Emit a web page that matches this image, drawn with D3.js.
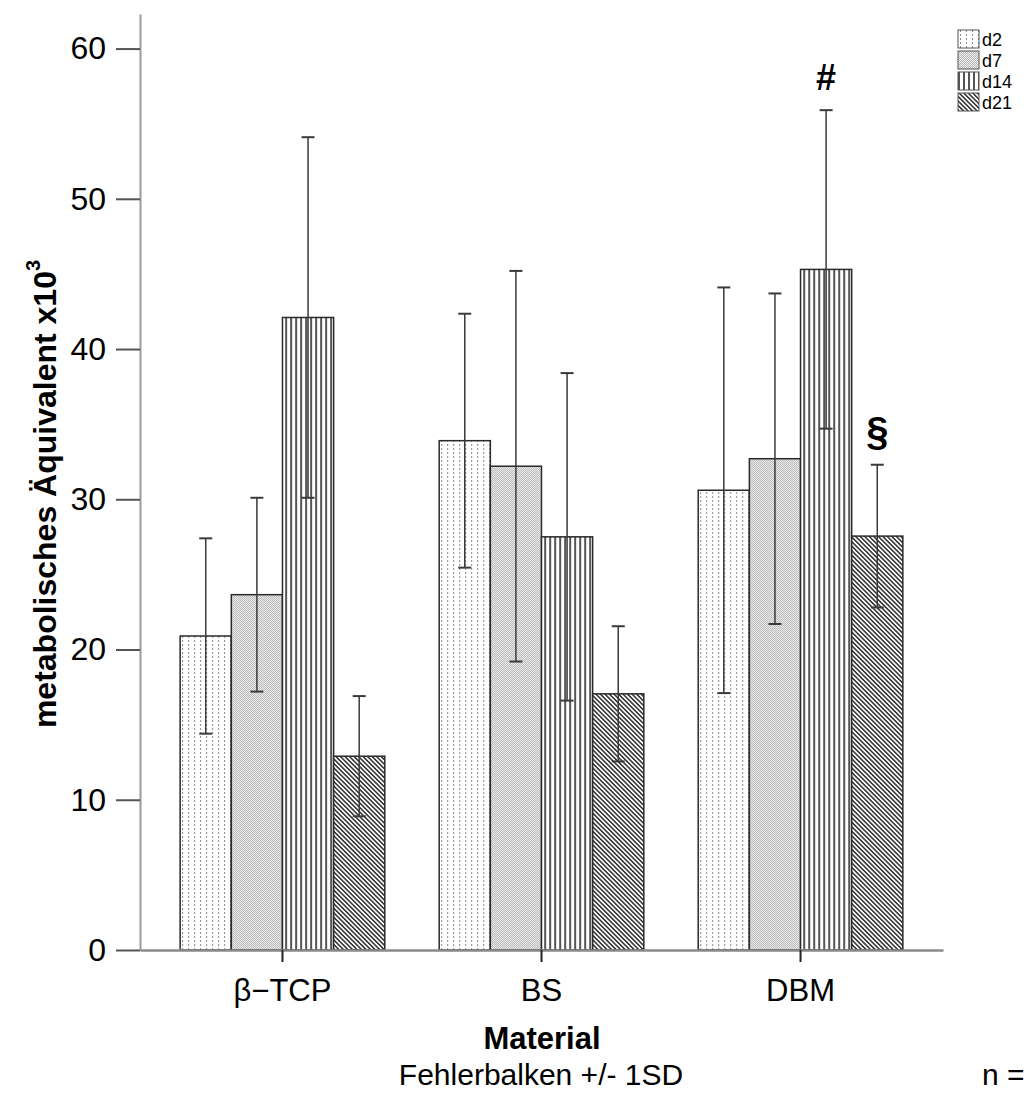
<!DOCTYPE html>
<html>
<head>
<meta charset="utf-8">
<script src="https://cdn.jsdelivr.net/npm/d3@7"></script>
<style>
  html, body { margin: 0; padding: 0; background: #fff; }
  svg { display: block; font-family: Arial, "Liberation Sans", sans-serif; }
</style>
</head>
<body>
<svg id="chart" width="1027" height="1095"></svg>
<script>
// Materials on the x axis and time points per material
const categories = ["β−TCP", "BS", "DBM"];
const series = ["d2", "d7", "d14", "d21"];

// Mean metabolic equivalent (x10^3) per time point, one value per material
const meanD2  = [20.9, 33.9, 30.6];
const meanD7  = [23.65, 32.2, 32.7];
const meanD14 = [42.1, 27.5, 45.3];
const meanD21 = [12.9, 17.05, 27.55];

// Standard deviations (error bars +/- 1SD)
const sdD2  = [6.5, 8.45, 13.5];
const sdD7  = [6.45, 13.0, 11.0];
const sdD14 = [12.0, 10.9, 10.6];
const sdD21 = [4.0, 4.5, 4.75];

const yTicks = [0, 10, 20, 30, 40, 50, 60];

// Significance markers placed above the error bars
const markers = [
  { category: "DBM", series: "d14", symbol: "#", size: 36, gap: 20 },
  { category: "DBM", series: "d21", symbol: "§", size: 40, gap: 20 }
];

const means = { d2: meanD2, d7: meanD7, d14: meanD14, d21: meanD21 };
const sds = { d2: sdD2, d7: sdD7, d14: sdD14, d21: sdD21 };

const rows = [];
categories.forEach((c, i) => {
  series.forEach(s => rows.push({ category: c, series: s, mean: means[s][i], sd: sds[s][i] }));
});

const svg = d3.select("#chart");

// ---- fill patterns, one per time point ----
const defs = svg.append("defs");

const pD2 = defs.append("pattern").attr("id", "pat-d2")
  .attr("patternUnits", "userSpaceOnUse").attr("width", 6).attr("height", 4);
pD2.append("rect").attr("width", 6).attr("height", 4).attr("fill", "#fff");
pD2.append("rect").attr("x", 2).attr("y", 0).attr("width", 1).attr("height", 2).attr("fill", "#8a8a8a");

const pD7 = defs.append("pattern").attr("id", "pat-d7")
  .attr("patternUnits", "userSpaceOnUse").attr("width", 2).attr("height", 2);
pD7.append("rect").attr("width", 2).attr("height", 2).attr("fill", "#f6f6f6");
pD7.append("rect").attr("x", 0).attr("y", 0).attr("width", 1).attr("height", 1).attr("fill", "#b0b0b0");
pD7.append("rect").attr("x", 1).attr("y", 1).attr("width", 1).attr("height", 1).attr("fill", "#b0b0b0");

const pD14 = defs.append("pattern").attr("id", "pat-d14")
  .attr("patternUnits", "userSpaceOnUse").attr("width", 5).attr("height", 4);
pD14.append("rect").attr("width", 5).attr("height", 4).attr("fill", "#fff");
pD14.append("rect").attr("x", 0).attr("y", 0).attr("width", 2).attr("height", 4).attr("fill", "#555");

const pD21 = defs.append("pattern").attr("id", "pat-d21")
  .attr("patternUnits", "userSpaceOnUse").attr("width", 3.2).attr("height", 3.2)
  .attr("patternTransform", "rotate(-45)");
pD21.append("rect").attr("width", 3.2).attr("height", 3.2).attr("fill", "#fff");
pD21.append("rect").attr("x", 0).attr("y", 0).attr("width", 1.6).attr("height", 3.2).attr("fill", "#3a3a3a");

const fillFor = s => `url(#pat-${s})`;

// ---- scales ----
const x = d3.scaleBand().domain(categories).range([140, 943])
  .paddingInner(0.21).paddingOuter(0.155);
const xs = d3.scaleBand().domain(series).range([0, x.bandwidth()]);
const y = d3.scaleLinear().domain([0, 62.3]).range([950, 14]);

// ---- y axis ----
const yAxis = svg.append("g").attr("transform", "translate(140,0)")
  .call(d3.axisLeft(y).tickValues(yTicks).tickFormat(d3.format("d"))
    .tickSize(24).tickSizeOuter(0).tickPadding(10));
yAxis.select(".domain").attr("stroke", "#9a9a9a").attr("stroke-width", 2);
yAxis.selectAll(".tick line").attr("stroke", "#555").attr("stroke-width", 2);
yAxis.selectAll(".tick text").attr("font-size", 32).attr("fill", "#000")
  .attr("font-family", "Arial, 'Liberation Sans', sans-serif");

// ---- bars ----
const groups = svg.append("g").selectAll("g.group")
  .data(categories).join("g")
  .attr("class", "group")
  .attr("transform", c => `translate(${x(c)},0)`);

groups.selectAll("rect.bar")
  .data(c => rows.filter(r => r.category === c))
  .join("rect")
  .attr("class", "bar")
  .attr("x", d => xs(d.series))
  .attr("width", xs.bandwidth())
  .attr("y", d => y(d.mean))
  .attr("height", d => y(0) - y(d.mean))
  .attr("fill", d => fillFor(d.series))
  .attr("stroke", "#2a2a2a")
  .attr("stroke-width", 1.5);

// ---- x axis ----
const xAxis = svg.append("g").attr("transform", "translate(0,950)")
  .call(d3.axisBottom(x).tickSize(12).tickSizeOuter(0).tickPadding(0));
xAxis.select(".domain").attr("stroke", "#8a8a8a").attr("stroke-width", 2.5);
xAxis.selectAll(".tick line").attr("stroke", "#222").attr("stroke-width", 2);
xAxis.selectAll(".tick text").attr("font-size", 31).attr("fill", "#000")
  .attr("y", 51).attr("dy", 0)
  .attr("font-family", "Arial, 'Liberation Sans', sans-serif");

// ---- error bars ----
const err = groups.selectAll("g.err")
  .data(c => rows.filter(r => r.category === c))
  .join("g").attr("class", "err")
  .attr("transform", d => `translate(${xs(d.series) + xs.bandwidth() / 2},0)`);
err.append("line")
  .attr("x1", 0).attr("x2", 0)
  .attr("y1", d => y(d.mean + d.sd)).attr("y2", d => y(d.mean - d.sd))
  .attr("stroke", "#3a3a3a").attr("stroke-width", 1.5);
err.selectAll("line.cap")
  .data(d => [d.mean + d.sd, d.mean - d.sd])
  .join("line").attr("class", "cap")
  .attr("x1", -6.5).attr("x2", 6.5)
  .attr("y1", v => y(v)).attr("y2", v => y(v))
  .attr("stroke", "#3a3a3a").attr("stroke-width", 2);

// ---- significance markers ----
svg.append("g").selectAll("text.marker")
  .data(markers).join("text")
  .attr("class", "marker")
  .attr("x", m => x(m.category) + xs(m.series) + xs.bandwidth() / 2)
  .attr("y", m => {
    const r = rows.find(r => r.category === m.category && r.series === m.series);
    return y(r.mean + r.sd) - m.gap;
  })
  .attr("text-anchor", "middle")
  .attr("font-weight", "bold")
  .attr("font-size", m => m.size)
  .text(m => m.symbol);

// ---- axis titles ----
const yTitle = svg.append("text")
  .attr("transform", "translate(56,494) rotate(-90)")
  .attr("text-anchor", "middle")
  .attr("font-weight", "bold")
  .attr("font-size", 32);
yTitle.append("tspan").text("metabolisches Äquivalent x10");
yTitle.append("tspan").attr("font-size", 20).attr("dy", -16).text("3");

svg.append("text")
  .attr("x", 542).attr("y", 1049)
  .attr("text-anchor", "middle")
  .attr("font-weight", "bold")
  .attr("font-size", 31)
  .text("Material");

svg.append("text")
  .attr("x", 541).attr("y", 1085)
  .attr("text-anchor", "middle")
  .attr("font-size", 30)
  .text("Fehlerbalken +/- 1SD");

svg.append("text")
  .attr("x", 982).attr("y", 1085)
  .attr("font-size", 30)
  .text("n =");

// ---- legend ----
const legend = svg.append("g").attr("transform", "translate(958,30)");
const li = legend.selectAll("g").data(series).join("g")
  .attr("transform", (d, i) => `translate(0,${i * 21})`);
li.append("rect")
  .attr("width", 21).attr("height", 18)
  .attr("fill", d => fillFor(d))
  .attr("stroke", "#555").attr("stroke-width", 1);
li.append("text")
  .attr("x", 24).attr("y", 16)
  .attr("font-size", 18)
  .text(d => d);
</script>
</body>
</html>
